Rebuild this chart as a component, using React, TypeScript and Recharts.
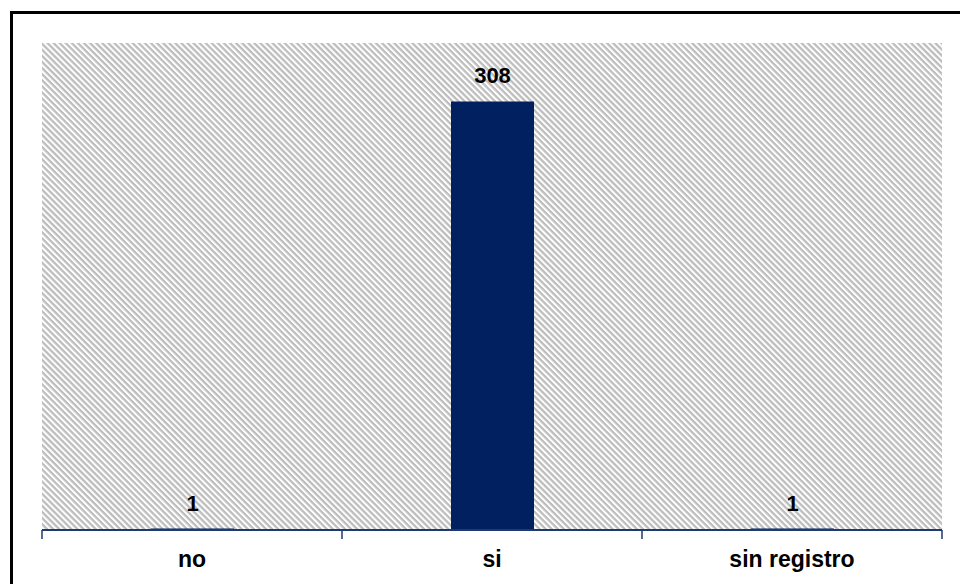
import { BarChart, Bar, XAxis, YAxis, CartesianGrid, LabelList } from 'recharts';

const categories = ['no', 'si', 'sin registro'];
const counts = [1, 308, 1];
const boundaryTicks = [0, 1, 2, 3];

const data = categories.map((name, i) => ({ name, value: counts[i], idx: i }));

const font = 'Arial, "Liberation Sans", sans-serif';

export default function App() {
  return (
    <div style={{ position: 'absolute', left: 0, top: 0, width: 960, height: 584, overflow: 'hidden', background: '#fff' }}>
      <div
        style={{
          position: 'absolute', left: 10, top: 11, width: 980, height: 600,
          border: '3px solid #000', boxSizing: 'border-box',
        }}
      />
      <BarChart
        width={960}
        height={584}
        data={data}
        margin={{ top: 43, right: 18, bottom: 0, left: 42 }}
        barSize={83}
        style={{ position: 'absolute', left: 0, top: 0 }}
      >
        <defs>
          <pattern id="hatch" width="4.3" height="4.3" patternUnits="userSpaceOnUse" patternTransform="rotate(45)">
            <rect width="4.3" height="4.3" fill="#ffffff" />
            <rect x="0" y="0" width="4.3" height="2.3" fill="#bdbdbd" />
          </pattern>
        </defs>
        <CartesianGrid horizontal={false} vertical={false} fill="url(#hatch)" stroke="none" />
        <XAxis
          xAxisId="bounds"
          type="number"
          dataKey="idx"
          domain={[0, 3]}
          ticks={boundaryTicks}
          tickFormatter={() => ''}
          height={1}
          axisLine={{ stroke: '#1f3a6e', strokeWidth: 2 }}
          tickLine={{ stroke: '#1f3a6e', strokeWidth: 1.5 }}
          tickSize={9}
        />
        <XAxis
          xAxisId="cat"
          dataKey="name"
          height={53}
          axisLine={false}
          tickLine={false}
          tick={{ fill: '#000', fontSize: 23, fontWeight: 'bold', fontFamily: font }}
          dy={12}
        />
        <YAxis hide domain={[0, 350]} />
        <Bar dataKey="value" xAxisId="cat" fill="#002060" isAnimationActive={false}>
          <LabelList
            dataKey="value"
            position="top"
            offset={18}
            fill="#000"
            style={{ fontSize: 22, fontWeight: 'bold', fontFamily: font }}
          />
        </Bar>
      </BarChart>
    </div>
  );
}
